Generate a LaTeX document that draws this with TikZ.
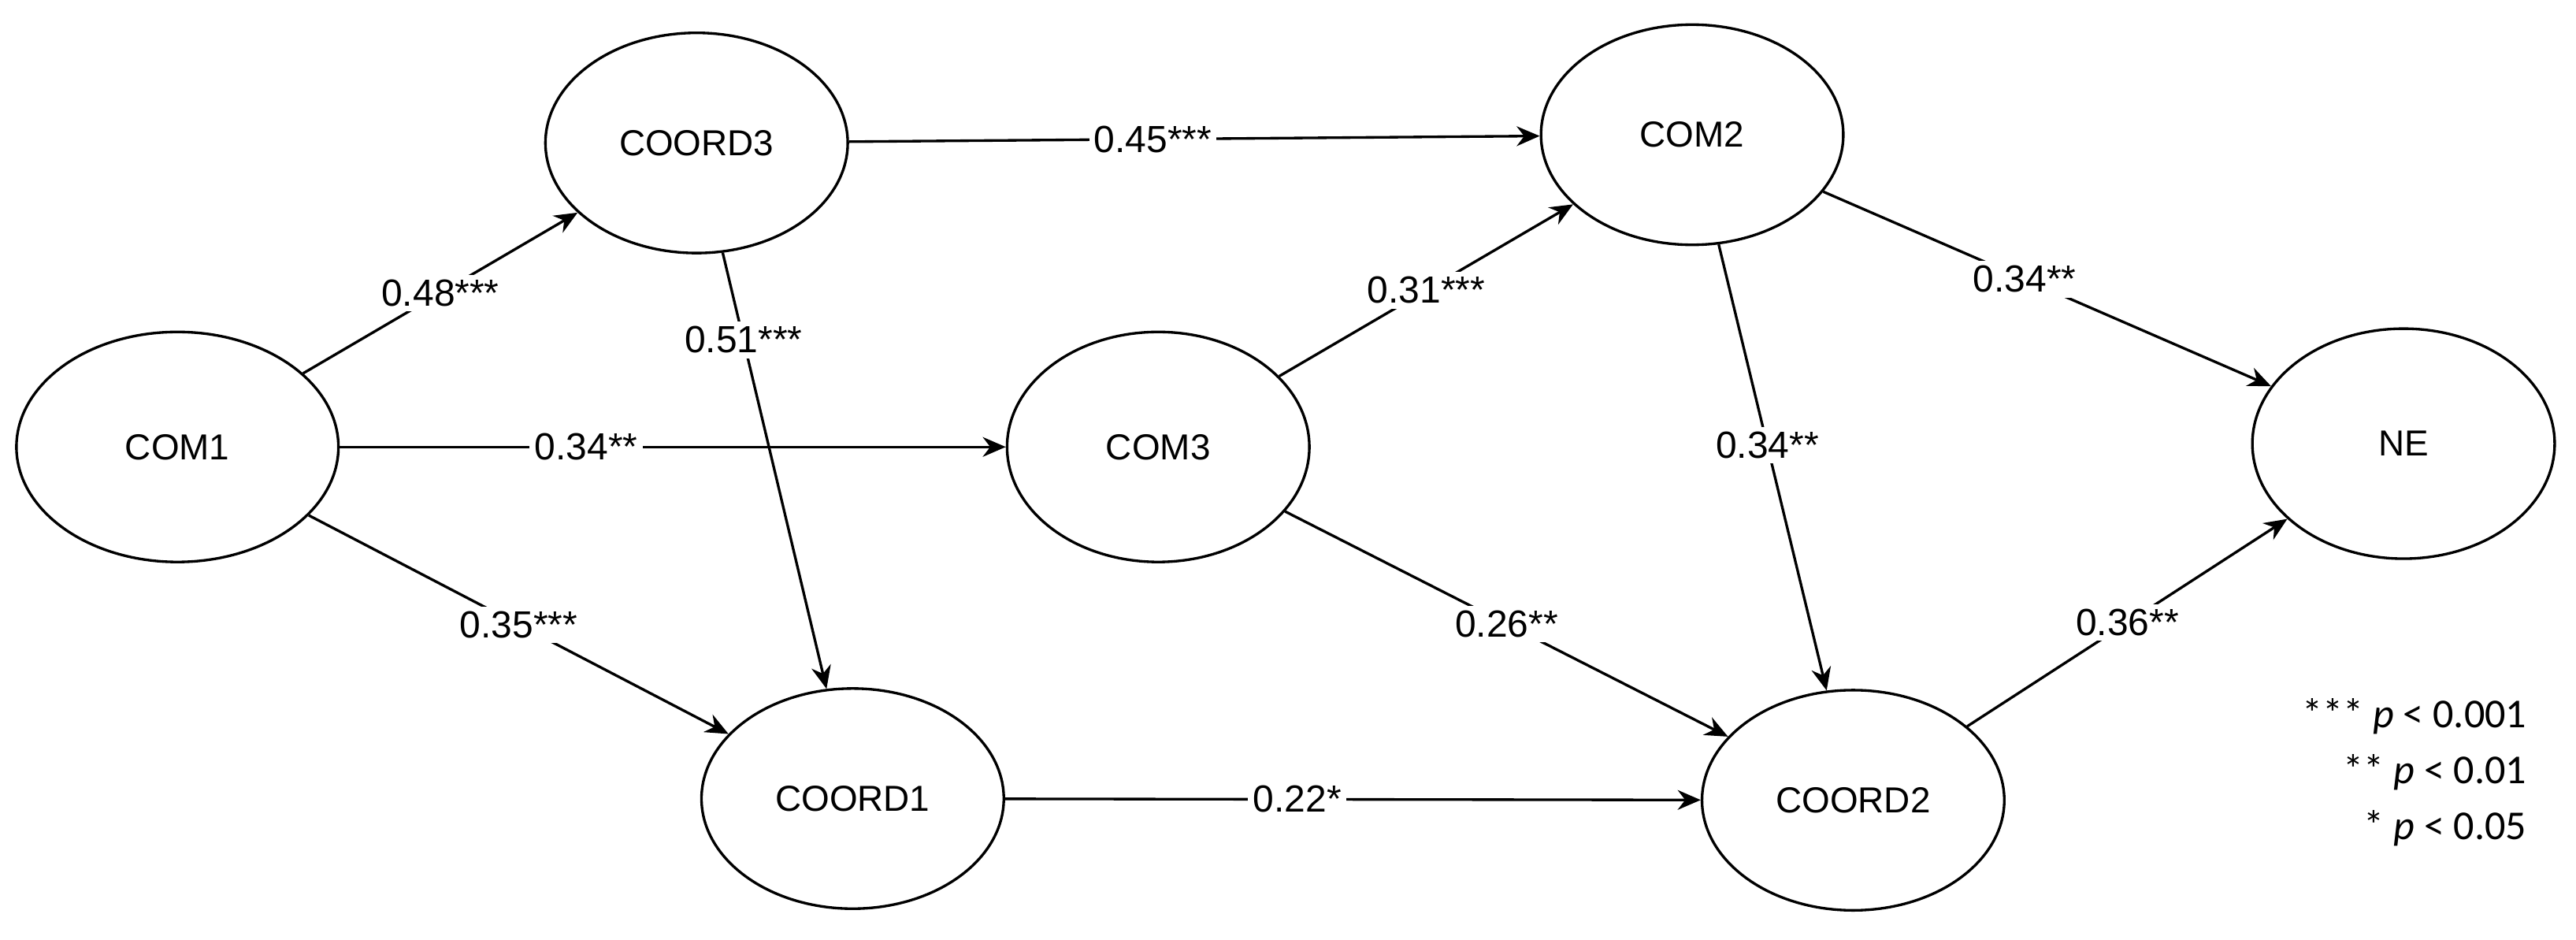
\documentclass[tikz,border=0pt]{standalone}
\usepackage{fontspec}
\setmainfont{Liberation Sans}
\newfontfamily\legfont{Carlito}
\usetikzlibrary{shapes.geometric,arrows.meta}
\begin{document}
\begin{tikzpicture}[x=0.5pt,y=-0.5pt,
  lat/.style={ellipse,draw,line width=0.8pt,minimum width=92pt,minimum height=67pt,inner sep=0pt,font=\fontsize{11}{13}\selectfont},
  arr/.style={-{Stealth[length=7pt,width=6pt]},line width=0.8pt},
  lab/.style={fill=white,inner sep=1.5pt,font=\fontsize{11.5}{13}\selectfont}]
\useasboundingbox (0,0) rectangle (1568,572);
\node[lat] (coord3) at (424,87) {COORD3};
\node[lat] (com2) at (1030,82) {COM2};
\node[lat,minimum width=98pt,minimum height=70pt] (com1) at (108,272) {COM1};
\node[lat,minimum height=70pt] (com3) at (705,272) {COM3};
\node[lat,minimum height=70pt] (ne) at (1463,270) {NE};
\node[lat] (coord1) at (519,486) {COORD1};
\node[lat] (coord2) at (1128,487) {COORD2};
\draw[arr] (coord3) -- node[lab,pos=0.44]{0.45***} (com2);
\draw[arr] (com1) -- node[lab,pos=0.5]{0.48***} (coord3);
\draw[arr] (coord3) -- node[lab,pos=0.2]{0.51***} (coord1);
\draw[arr] (com1) -- node[lab,pos=0.37]{0.34**} (com3);
\draw[arr] (com1) -- node[lab,pos=0.5]{0.35***} (coord1);
\draw[arr] (com3) -- node[lab,pos=0.5]{0.31***} (com2);
\draw[arr] (com2) -- node[lab,pos=0.45]{0.34**} (ne);
\draw[arr] (com2) -- node[lab,pos=0.45]{0.34**} (coord2);
\draw[arr] (com3) -- node[lab,pos=0.5]{0.26**} (coord2);
\draw[arr] (coord2) -- node[lab,pos=0.5]{0.36**} (ne);
\draw[arr] (coord1) -- node[lab,pos=0.42]{0.22*} (coord2);
\node[align=right,anchor=north east,font=\legfont\fontsize{12.5}{17}\selectfont] (leg) at (1545,418) {*** \textit{p} < 0.001\\ ** \textit{p} < 0.01\\ * \textit{p} < 0.05};
\end{tikzpicture}
\end{document}
